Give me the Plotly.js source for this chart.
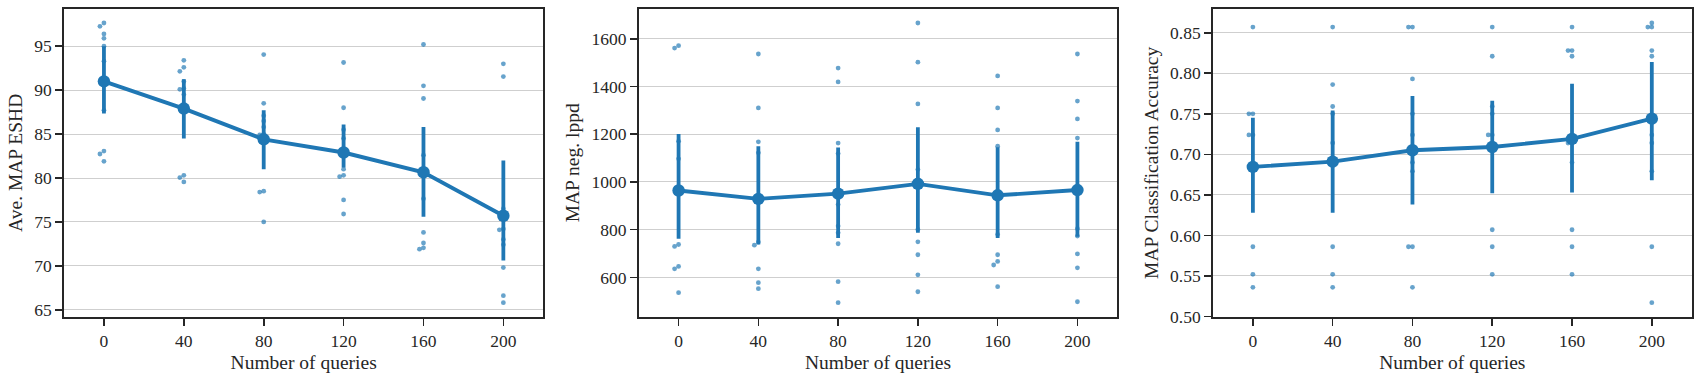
<!DOCTYPE html>
<html>
<head>
<meta charset="utf-8">
<script src="https://cdn.plot.ly/plotly-3.0.1.min.js"></script>
<style>html,body{margin:0;padding:0;background:#fff;}#chart{width:1701px;height:381px;}</style>
</head>
<body>
<div id="chart"></div>
<script>
// ---- data ----
const queries = ['0', '40', '80', '120', '160', '200'];

// Panel 1: Ave. MAP ESHD
const eshdMean = [91.0, 87.9, 84.4, 82.9, 80.65, 75.7];
const eshdLow  = [87.35, 84.5, 81.0, 81.2, 75.6, 70.6];
const eshdHigh = [95.0, 91.25, 87.7, 86.1, 85.8, 82.0];
const eshdRuns = [
  [97.65, 97.27, 96.4, 95.9, 95.0, 93.3, 87.7, 83.07, 82.73, 81.9],
  [93.4, 92.6, 92.15, 91.0, 90.2, 90.1, 89.5, 80.3, 80.05, 79.55],
  [94.05, 88.5, 87.1, 86.5, 85.8, 85.0, 84.9, 78.5, 78.4, 75.0],
  [93.15, 88.0, 85.5, 84.5, 83.0, 81.0, 80.3, 80.15, 77.5, 75.9],
  [95.2, 90.5, 89.05, 82.6, 80.3, 77.65, 73.8, 72.6, 72.05, 71.9],
  [93.0, 91.55, 76.5, 74.2, 74.1, 73.0, 72.4, 69.8, 66.6, 65.8]
];

// Panel 2: MAP neg. lppd
const lppdMean = [964, 929, 951, 992, 944, 966];
const lppdLow  = [762, 738, 765, 787, 765, 770];
const lppdHigh = [1201, 1150, 1144, 1229, 1145, 1168];
const lppdRuns = [
  [1571, 1561, 1170, 1097, 738, 730, 646, 636, 536],
  [1536, 1310, 1168, 1122, 748, 735, 636, 578, 553],
  [1477, 1419, 1163, 1119, 905, 815, 787, 741, 582, 494],
  [1666, 1502, 1327, 1052, 801, 749, 695, 611, 540],
  [1444, 1310, 1218, 1150, 780, 695, 667, 652, 561],
  [1536, 1339, 1264, 1184, 804, 773, 699, 640, 498]
];

// Panel 3: MAP Classification Accuracy
const accMean = [0.6845, 0.691, 0.705, 0.709, 0.719, 0.744];
const accLow  = [0.628, 0.628, 0.638, 0.652, 0.653, 0.668];
const accHigh = [0.745, 0.754, 0.772, 0.766, 0.787, 0.814];
const accRuns = [
  [0.857, 0.75, 0.75, 0.724, 0.724, 0.586, 0.552, 0.536],
  [0.857, 0.786, 0.759, 0.75, 0.714, 0.69, 0.586, 0.552, 0.536],
  [0.857, 0.857, 0.793, 0.75, 0.724, 0.69, 0.679, 0.586, 0.586, 0.536],
  [0.857, 0.821, 0.759, 0.75, 0.724, 0.724, 0.607, 0.586, 0.552],
  [0.857, 0.828, 0.828, 0.821, 0.714, 0.714, 0.69, 0.607, 0.586, 0.552],
  [0.862, 0.857, 0.857, 0.828, 0.821, 0.724, 0.714, 0.679, 0.586, 0.517]
];

const yLabels = ['Ave. MAP ESHD', 'MAP neg. lppd', 'MAP Classification Accuracy'];
const xLabel = 'Number of queries';

// ---- styling ----
const C0 = '#1f77b4';
const INK = '#262626';
const FONT = 'Liberation Serif, Times New Roman, serif';

function pad(lo, hi) { const s = hi - lo; return [lo - 0.05 * s, hi + 0.05 * s]; }

function strip(runs, range, xa, ya) {
  const xs = [], ys = [];
  const pxPerUnit = 307.7 / (range[1] - range[0]);
  runs.forEach((vals, i) => {
    const placed = [];
    vals.slice().sort((a, b) => b - a).forEach(v => {
      let off = 0;
      if (placed.some(p => p.off === 0 && Math.abs(p.v - v) * pxPerUnit < 4)) off = -0.05;
      placed.push({v, off});
      xs.push(i + off); ys.push(v);
    });
  });
  return {type: 'scatter', mode: 'markers', x: xs, y: ys, xaxis: xa, yaxis: ya,
    marker: {color: 'rgba(31,119,180,0.68)', size: 4.8, line: {width: 0}},
    hoverinfo: 'skip', showlegend: false};
}

function points(mean, low, high, xa, ya) {
  return {type: 'scatter', mode: 'lines+markers', x: queries.map((q, i) => i), y: mean,
    xaxis: xa, yaxis: ya,
    line: {color: C0, width: 3.9},
    marker: {color: C0, size: 12.5},
    error_y: {type: 'data', symmetric: false,
      array: high.map((h, i) => h - mean[i]),
      arrayminus: low.map((l, i) => mean[i] - l),
      color: C0, thickness: 3.8, width: 0},
    showlegend: false};
}

const allRuns = [eshdRuns, lppdRuns, accRuns];
const ranges = allRuns.map(r => { const f = r.flat(); return pad(Math.min(...f), Math.max(...f)); });

const traces = [
  strip(eshdRuns, ranges[0], 'x', 'y'),
  points(eshdMean, eshdLow, eshdHigh, 'x', 'y'),
  strip(lppdRuns, ranges[1], 'x2', 'y2'),
  points(lppdMean, lppdLow, lppdHigh, 'x2', 'y2'),
  strip(accRuns, ranges[2], 'x3', 'y3'),
  points(accMean, accLow, accHigh, 'x3', 'y3')
];

const W = 1701, H = 381;
const xDomains = [[64, 543.3], [638.7, 1117.3], [1213, 1691.7]].map(d => [d[0] / W, d[1] / W]);
const yDomain = [1 - 316.7 / H, 1 - 9 / H];

const yTicks = [
  [65, 70, 75, 80, 85, 90, 95],
  [600, 800, 1000, 1200, 1400, 1600],
  [0.50, 0.55, 0.60, 0.65, 0.70, 0.75, 0.80, 0.85]
];

function xaxis(i) {
  return {domain: xDomains[i], anchor: i === 0 ? 'y' : 'y' + (i + 1),
    range: [-0.5, 5.5], tickvals: queries.map((q, k) => k), ticktext: queries,
    showgrid: false, zeroline: false, showline: true, mirror: true,
    linecolor: INK, linewidth: 1.8, ticks: 'outside', ticklen: 7, tickwidth: 1.6, tickcolor: INK,
    tickfont: {family: FONT, size: 17.5, color: INK},
    title: {text: xLabel, font: {family: FONT, size: 19.5, color: INK}, standoff: 6},
    automargin: false, fixedrange: true};
}
function yaxis(i) {
  return {domain: yDomain, anchor: i === 0 ? 'x' : 'x' + (i + 1),
    range: ranges[i], tickvals: yTicks[i],
    ticktext: yTicks[i].map(v => i === 2 ? v.toFixed(2) : String(v)),
    showgrid: true, gridcolor: '#cfcfcf', gridwidth: 1, zeroline: false,
    showline: true, mirror: true, linecolor: INK, linewidth: 1.8,
    ticks: 'outside', ticklen: 7, tickwidth: 1.6, tickcolor: INK,
    tickfont: {family: FONT, size: 17.5, color: INK},
    title: {text: yLabels[i], font: {family: FONT, size: 19.5, color: INK}, standoff: 6},
    automargin: false, fixedrange: true};
}

const layout = {
  width: W, height: H, margin: {l: 0, r: 0, t: 0, b: 0},
  paper_bgcolor: '#fff', plot_bgcolor: '#fff',
  font: {family: FONT, color: INK},
  xaxis: xaxis(0), yaxis: yaxis(0),
  xaxis2: xaxis(1), yaxis2: yaxis(1),
  xaxis3: xaxis(2), yaxis3: yaxis(2)
};

Plotly.newPlot('chart', traces, layout, {displayModeBar: false, staticPlot: true});
</script>
</body>
</html>
